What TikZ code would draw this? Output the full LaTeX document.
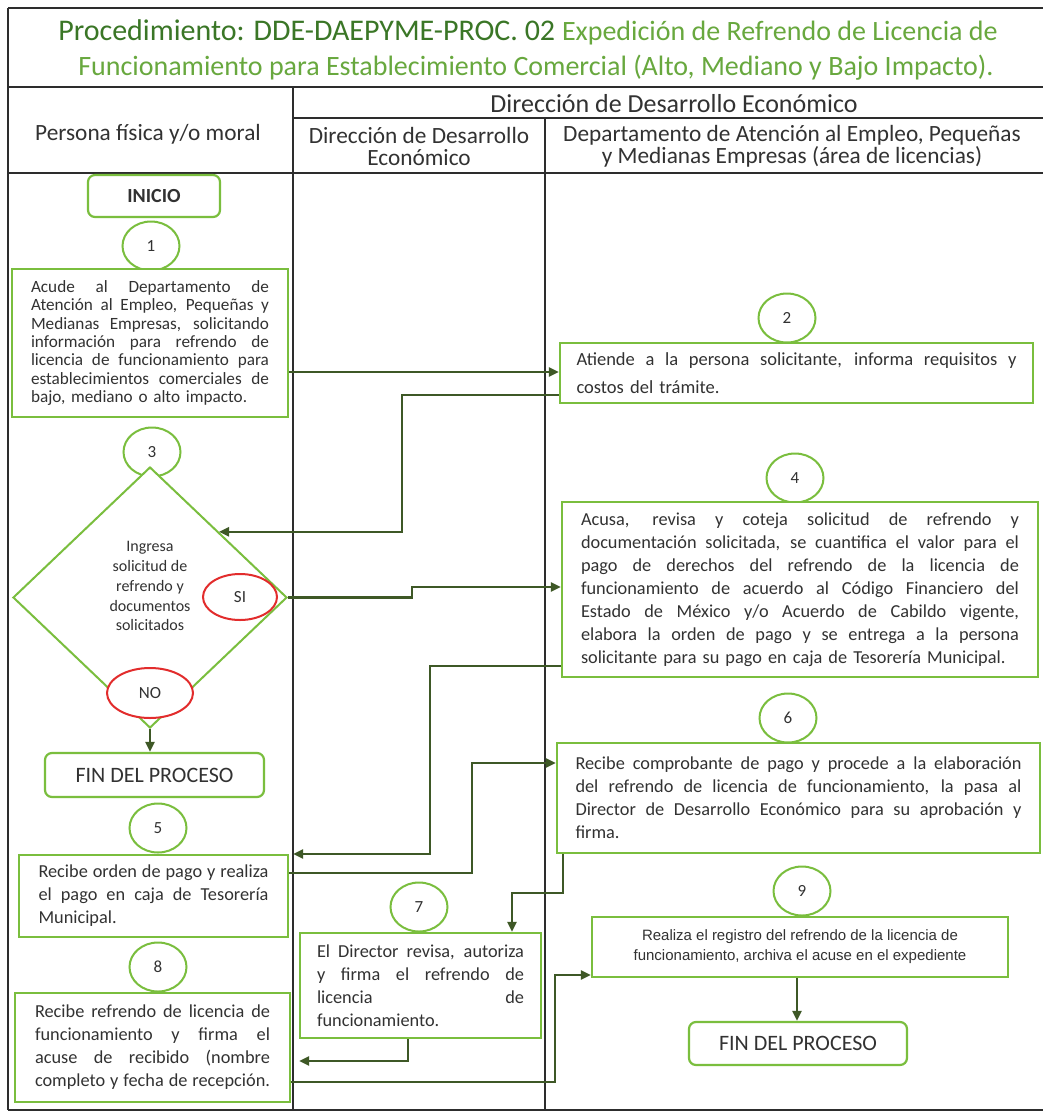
\documentclass[tikz,border=0pt]{standalone}
\usepackage{fontspec}
\setmainfont{Carlito}
\newfontfamily\arialf{Liberation Sans}
\usetikzlibrary{shapes.geometric,arrows.meta,calc}
\definecolor{boxg}{RGB}{122,190,62}
\definecolor{conng}{RGB}{62,88,38}
\definecolor{titA}{RGB}{58,118,38}
\definecolor{titB}{RGB}{104,168,62}
\definecolor{redc}{RGB}{226,44,44}
\definecolor{txt}{RGB}{50,50,50}
\definecolor{gridc}{RGB}{45,45,45}
\newcommand\J[2]{\makebox[#1pt][s]{\spaceskip=0pt\xspaceskip=0pt\relax #2}}
\begin{document}
\begin{tikzpicture}[x=1pt,y=-1pt,
  every node/.style={text=txt},
  gridline/.style={draw=gridc, line width=1.3pt},
  box/.style={draw=boxg, line width=2.2pt, fill=white, inner sep=0pt, align=left},
  rbox/.style={draw=boxg, line width=2.2pt, fill=white, rounded corners=7pt, inner sep=0pt},
  num/.style={ellipse, draw=boxg, line width=2pt, fill=white, minimum width=57pt, minimum height=49pt, inner sep=0pt, font=\fontsize{17}{17}\selectfont},
  redell/.style={ellipse, draw=redc, line width=2pt, fill=white, inner sep=0pt, font=\fontsize{17}{17}\selectfont},
  conn/.style={draw=conng, line width=2.4pt, -{Triangle[length=10pt,width=9pt]}},
  hdr/.style={font=\fontsize{23.3}{22}\selectfont, align=center},
  body/.style={font=\fontsize{18.3}{23}\selectfont},
  fin/.style={rbox, font=\fontsize{22}{22}\selectfont},
]
\useasboundingbox (0,0) rectangle (1043,1120);
\fill[white] (0,0) rectangle (1043,1120);

% table frame
\draw[gridline] (8,8) -- (1043,8);
\draw[gridline] (8,8) -- (8,1110);
\draw[gridline] (8,1110) -- (1043,1110);
\draw[gridline] (8,87) -- (1043,87);
\draw[gridline] (293,118) -- (1043,118);
\draw[gridline] (8,173) -- (1043,173);
\draw[gridline] (293,87) -- (293,1110);
\draw[gridline] (545,118) -- (545,1110);

% title
\node[font=\fontsize{30}{30}\selectfont, inner sep=0pt] (t1) at (528,32) {\textcolor{titA}{Procedimiento: DDE-DAEPYME-PROC. 02} \textcolor{titB}{\fontsize{28}{28}\selectfont Expedición de Refrendo de Licencia de}};
\node[font=\fontsize{28}{28}\selectfont, text=titB, inner sep=0pt] (t2) at (536,68) {Funcionamiento para Establecimiento Comercial (Alto, Mediano y Bajo Impacto).};

% headers
\node[hdr, font=\fontsize{26}{26}\selectfont] (hD) at (674,104) {Dirección de Desarrollo Económico};
\node[hdr] (hP) at (148,134) {Persona física y/o moral};
\node[hdr] (hD2) at (419,146) {Dirección de Desarrollo\\Económico};
\node[hdr] (hD3) at (792,146) {Departamento de Atención al Empleo, Pequeñas\\y Medianas Empresas (área de licencias)};

% column 1
\node[rbox, minimum width=132pt, minimum height=42pt, font=\bfseries\fontsize{20}{20}\selectfont] (ini) at (154,196) {INICIO};
\node[num] (c1) at (151,246) {1};
\node[box, minimum width=276pt, minimum height=148pt, text width=238pt, font=\fontsize{17.2}{18.3}\selectfont] (b1) at (150,343)
{\J{238}{Acude al Departamento de}\\
\J{238}{Atención al Empleo, Pequeñas y}\\
\J{238}{Medianas Empresas, solicitando}\\
\J{238}{información para refrendo de}\\
\J{238}{licencia de funcionamiento para}\\
\J{238}{establecimientos comerciales de}\\
\mbox{bajo, mediano o alto impacto.}};
\node[num] (c3) at (152,452) {3};
\node[diamond, draw=boxg, line width=2pt, fill=white, minimum width=274pt, minimum height=261pt, inner sep=0pt, align=center, font=\fontsize{16}{19.8}\selectfont] (d3) at (150,597.5) {Ingresa\\solicitud de\\refrendo y\\documentos\\solicitados\\[3pt]};
\node[redell, minimum width=74pt, minimum height=46pt] (si) at (240,597) {SI};
\node[redell, minimum width=86pt, minimum height=50pt] (no) at (150,693) {NO};
\node[fin, minimum width=219pt, minimum height=44pt] (f1) at (154.5,775) {FIN DEL PROCESO};
\node[num] (c5) at (158,828) {5};
\node[box, body, minimum width=269pt, minimum height=82pt, text width=230pt] (b5) at (153.5,896)
{\J{230}{Recibe orden de pago y realiza}\\
\J{230}{el pago en caja de Tesorería}\\
\mbox{Municipal.}};
\node[num] (c8) at (158,967) {8};
\node[box, body, minimum width=275pt, minimum height=109pt, text width=235pt] (b8) at (152.5,1047.5)
{\J{235}{Recibe refrendo de licencia de}\\
\J{235}{funcionamiento y firma el}\\
\J{235}{acuse de recibido (nombre}\\
\J{235}{completo y fecha de recepción.}};

% column 2
\node[num] (c7) at (419,907) {7};
\node[box, body, minimum width=241pt, minimum height=105pt, text width=207pt] (b7) at (420.5,985.5)
{\J{207}{El Director revisa, autoriza}\\
\J{207}{y firma el refrendo de}\\
\J{207}{licencia de}\\
\mbox{funcionamiento.}};

% column 3
\node[num] (c2) at (787,318) {2};
\node[box, minimum width=473pt, minimum height=60pt, text width=440pt, font=\fontsize{18.5}{28}\selectfont] (b2) at (796.5,373)
{\J{440}{Atiende a la persona solicitante, informa requisitos y}\\
\mbox{costos del trámite.}};
\node[num] (c4) at (795,478) {4};
\node[box, body, minimum width=476pt, minimum height=175pt, text width=438pt] (b4) at (800,589.5)
{\J{438}{Acusa, revisa y coteja solicitud de refrendo y}\\
\J{438}{documentación solicitada, se cuantifica el valor para el}\\
\J{438}{pago de derechos del refrendo de la licencia de}\\
\J{438}{funcionamiento de acuerdo al Código Financiero del}\\
\J{438}{Estado de México y/o Acuerdo de Cabildo vigente,}\\
\J{438}{elabora la orden de pago y se entrega a la persona}\\
\mbox{solicitante para su pago en caja de Tesorería Municipal.}};
\node[num] (c6) at (788,718) {6};
\node[box, body, minimum width=483pt, minimum height=110pt, text width=446pt] (b6) at (798.5,798)
{\J{446}{Recibe comprobante de pago y procede a la elaboración}\\
\J{446}{del refrendo de licencia de funcionamiento, la pasa al}\\
\J{446}{Director de Desarrollo Económico para su aprobación y}\\
\mbox{firma.}};
\node[num] (c9) at (802,891) {9};
\node[box, minimum width=416pt, minimum height=60pt, align=center, font=\arialf\fontsize{15}{20}\selectfont] (b9) at (800,947)
{Realiza el registro del refrendo de la licencia de\\funcionamiento, archiva el acuse en el expediente};
\node[fin, minimum width=218pt, minimum height=43pt] (f2) at (798,1043.5) {FIN DEL PROCESO};

% connectors
\coordinate (k2) at (402,395);
\coordinate (k3) at (412,587);
\coordinate (k4) at (430,666);
\coordinate (k5) at (472,873);
\coordinate (k6) at (563,893);
\coordinate (k7) at (408,1061);
\coordinate (k8) at (555,975);
\draw[conn] (b1.east |- 0,372) -- (b2.west |- 0,372);
\draw[conn] (b2.west |- k2) -- (k2) |- (d3.north east);
\draw[conn] (d3.east) -| (k3) -- (b4.west |- k3);
\draw[conn] (b4.west |- k4) -- (k4) |- ($(b5.east |- 0,854)+(4,0)$);
\draw[conn] (b5.east |- k5) -- (k5) |- (b6.west |- 0,763);
\draw[conn] (b6.south -| k6) -- (k6) -| (b7.north -| 512,0);
\draw[conn] (b7.south -| k7) -- (k7) -- ($(b8.east |- k7)+(8,0)$);
\draw[conn] (b8.east |- 0,1082) -| (k8) -- (b9.west |- k8);
\draw[conn] (b9.south -| 797,0) -- (f2.north -| 797,0);
\draw[conn] (d3.south) -- (f1.north -| d3.south);
\end{tikzpicture}
\end{document}
